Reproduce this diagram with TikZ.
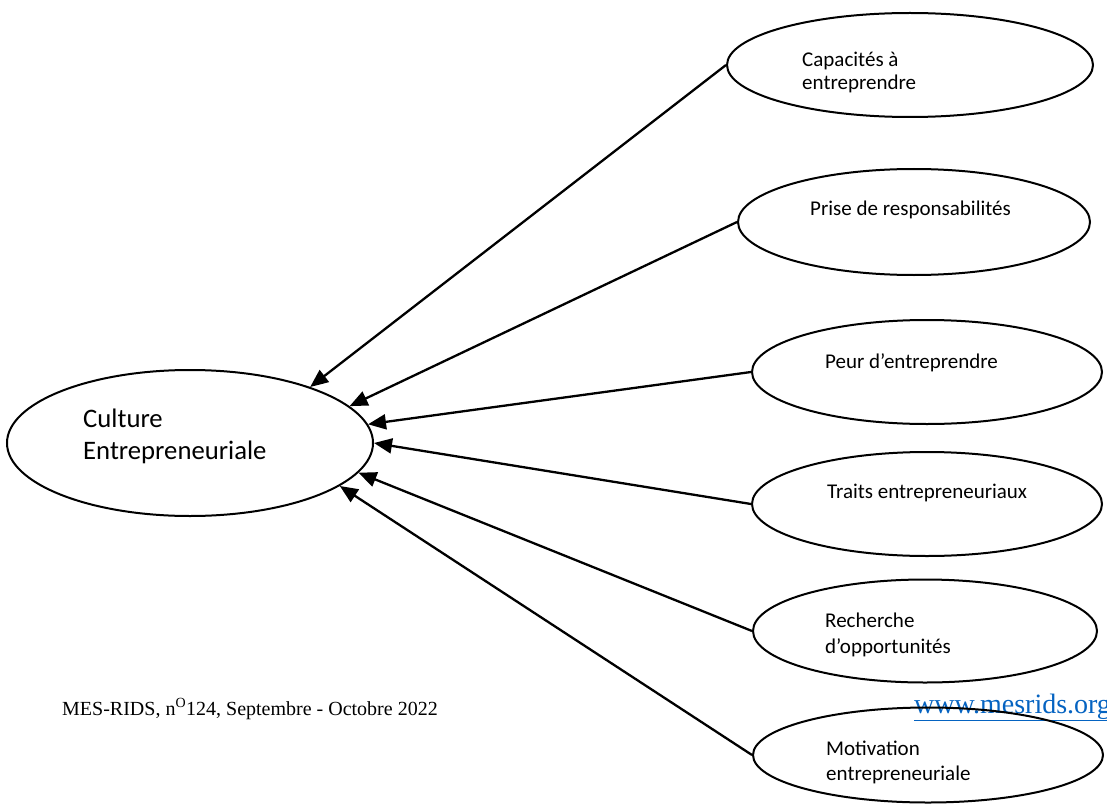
\documentclass[tikz,border=0pt]{standalone}
\usepackage{fontspec}
\setmainfont{Carlito}
\newfontfamily\footfont{Liberation Serif}
\usetikzlibrary{arrows.meta,shapes.geometric}
\definecolor{linkblue}{HTML}{0563C1}
\tikzset{
  oval/.style={draw, ellipse, line width=2pt, inner sep=0pt},
  lbl/.style={anchor=base west, align=left, inner sep=0pt, font=\fontsize{21}{24}\selectfont},
  conn/.style={line width=2.3pt, -{Triangle[length=18pt,width=15pt]}},
}
\begin{document}
\begin{tikzpicture}[x=1pt,y=-1pt]
\useasboundingbox (0,0) rectangle (1107,805);
% footer
\node[anchor=base west, inner sep=0pt, font=\footfont\fontsize{20}{24}\selectfont] (foot) at (62,715) {MES-RIDS, n\textsuperscript{O}124, Septembre - Octobre 2022};
\node[anchor=base west, inner sep=0pt, font=\footfont\fontsize{28}{32}\selectfont, text=linkblue] (www) at (914,713) {\underline{www.mesrids.org}};
% ellipses
\node[oval, minimum width=366pt, minimum height=146pt] (cult) at (190,443) {};
\node[oval, minimum width=366pt, minimum height=104pt] (cap) at (910,65) {};
\node[oval, minimum width=352pt, minimum height=106pt] (pri) at (914,222) {};
\node[oval, minimum width=350pt, minimum height=104pt] (peu) at (927,372) {};
\node[oval, minimum width=350pt, minimum height=104pt] (tra) at (927,504) {};
\node[oval, minimum width=344pt, minimum height=103pt] (rec) at (925,631) {};
\node[oval, minimum width=350pt, minimum height=95pt] (mot) at (928,755) {};
% labels (base = baseline of last line)
\node[lbl, font=\fontsize{26.7}{32}\selectfont] (tcult) at (83,459) {Culture\\Entrepreneuriale};
\node[lbl, font=\fontsize{21}{23}\selectfont] (tcap) at (802,90) {Capacités à\\entreprendre};
\node[lbl] (tpri) at (810,215) {Prise de responsabilités};
\node[lbl] (tpeu) at (825,368) {Peur d’entreprendre};
\node[lbl] (ttra) at (827,498) {Traits entrepreneuriaux};
\node[lbl, font=\fontsize{21}{26}\selectfont] (trec) at (825,653) {Recherche\\d’opportunités};
\node[lbl, font=\fontsize{21}{25}\selectfont] (tmot) at (826,780) {Motivation\\entrepreneuriale};
% connectors
\draw[conn] (cap.west) -- (cult.25.8);
\draw[conn] (pri.west) -- (cult.13.6);
\draw[conn] (peu.west) -- (cult.6.9);
\draw[conn] (tra.west) -- (cult.0);
\draw[conn] (rec.west) -- (cult.-10);
\draw[conn] (mot.west) -- (cult.-16.9);
\end{tikzpicture}
\end{document}
